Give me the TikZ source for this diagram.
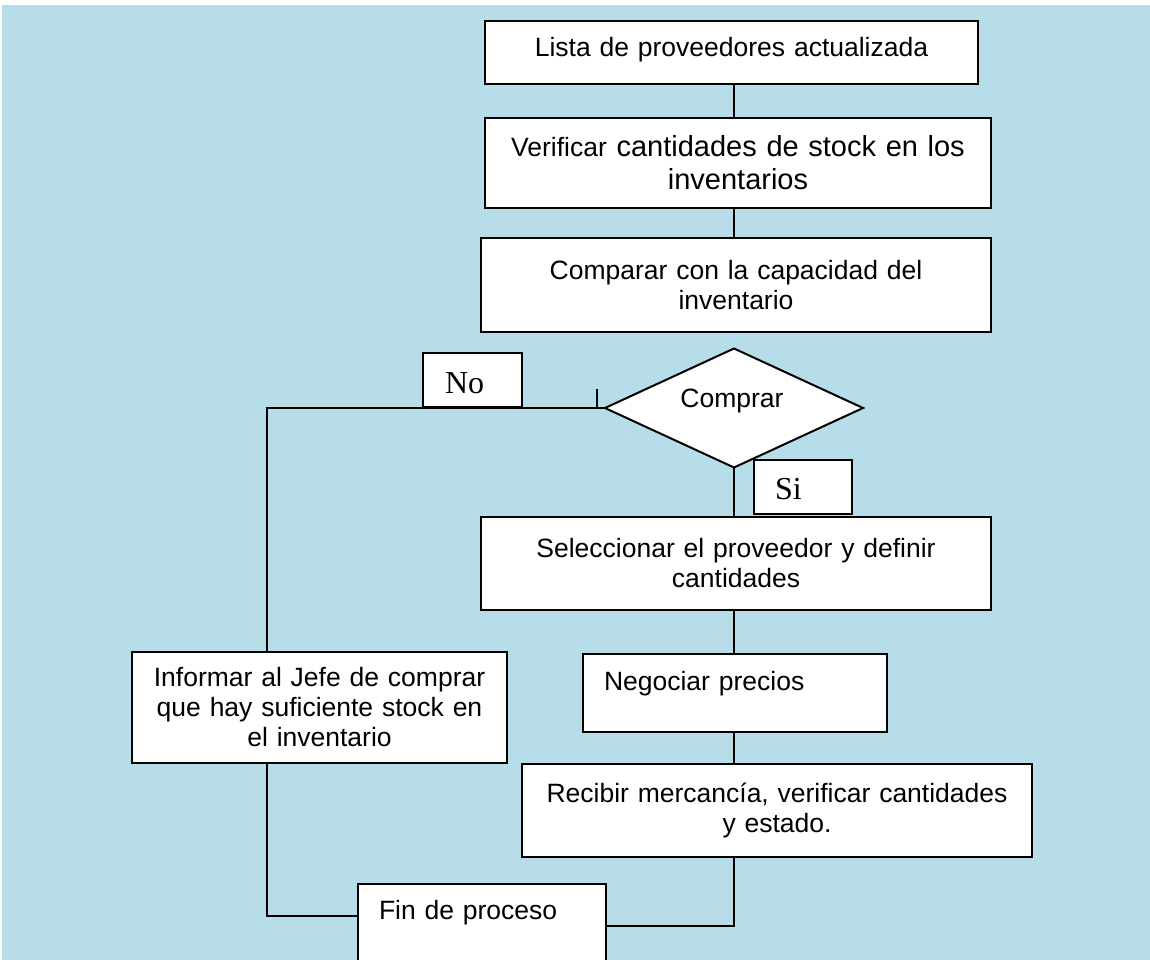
\documentclass[tikz,border=0pt]{standalone}
\usepackage{fontspec}
\setmainfont{Liberation Sans}
\newfontfamily\serifrm{Liberation Serif}
\usetikzlibrary{shapes.geometric}
\definecolor{bgblue}{HTML}{B7DDE8}
\begin{document}
\begin{tikzpicture}[x=1pt,y=-1pt,
  box/.style={draw=black,fill=white,line width=2pt,inner sep=0pt,outer sep=0pt,
    anchor=north west,align=center,font=\fontsize{26.5}{30}\selectfont},
  conn/.style={draw=black,line width=2pt},
  lbl/.style={box,align=left,inner ysep=0pt,font=\serifrm\fontsize{32}{36}\selectfont},
  dec/.style={draw=black,fill=white,diamond,line width=2pt,inner sep=0pt,outer sep=0pt,aspect=2.17}
 ]
\useasboundingbox (0,0) rectangle (1150,960);
\fill[white] (0,0) rectangle (1150,960);
\fill[bgblue] (2,5) rectangle (1150,960);
\clip (0,0) rectangle (1150,960);

% coordinates
\coordinate (spine) at (734,0);
\coordinate (L) at (267,408);
\coordinate (yL) at (0,916);
\coordinate (yR) at (0,926);
\coordinate (tickTop) at (597,389);
\coordinate (tickBot) at (597,408);

% nodes
\node[box,minimum width=493pt,minimum height=63pt,text width=480pt,text height=17pt,text depth=9pt] (b1) at (485,21) {Lista de proveedores actualizada};
\node[box,minimum width=506pt,minimum height=90pt,text width=490pt,font=\fontsize{29}{33}\selectfont] (b2) at (485,118) {{\fontsize{26.5}{33}\selectfont Verificar} cantidades de stock en los\\inventarios};
\node[box,minimum width=510pt,minimum height=94pt,text width=495pt] (b3) at (481,238) {Comparar con la capacidad del\\inventario};
\node[dec,minimum width=258pt,minimum height=119pt] (d) at (734,408) {};
\node[font=\fontsize{26.5}{30}\selectfont,anchor=base,inner sep=0pt] (dt) at (732,407) {Comprar};
\node[box,minimum width=510pt,minimum height=93pt,text width=495pt] (b4) at (481,517) {Seleccionar el proveedor y definir\\cantidades};
\node[box,align=left,text width=262pt,inner xsep=21pt,inner ysep=16pt,text height=20pt,text depth=26pt] (b5) at (583,654) {Negociar precios};
\node[box,minimum width=510pt,minimum height=93pt,text width=495pt] (b6) at (522,764) {Recibir mercancía, verificar cantidades\\y estado.};
\node[box,minimum width=375pt,minimum height=111pt,text width=360pt] (b7) at (132,652) {Informar al Jefe de comprar\\que hay suficiente stock en\\el inventario};
\node[box,align=left,text width=206pt,inner xsep=21pt,inner ysep=15pt,text height=20pt,text depth=70pt] (fin) at (358,884) {Fin de proceso};

% connectors
\draw[conn] (b1.south -| spine) -- (b2.north -| spine);
\draw[conn] (b2.south -| spine) -- (b3.north -| spine);
\draw[conn] (d.south) -- (b4.north -| d.south);
\draw[conn] (b4.south -| spine) -- (b5.north -| spine);
\draw[conn] (b5.south -| spine) -- (b6.north -| spine);
\draw[conn] (b6.south -| spine) |- (fin.east |- yR);
\draw[conn] (d.west) -- (L) -- (L |- b7.north);
\draw[conn] (L |- b7.south) |- (fin.west |- yL);
\draw[conn] (tickBot) -- (tickTop);

% branch labels
\node[lbl,text width=55pt,inner xsep=22pt,text height=40pt,text depth=14pt] (no) at (423,353) {No};
\node[lbl,text width=56pt,inner xsep=21pt,text height=39pt,text depth=15pt] (si) at (754,460) {Si};
\end{tikzpicture}
\end{document}
